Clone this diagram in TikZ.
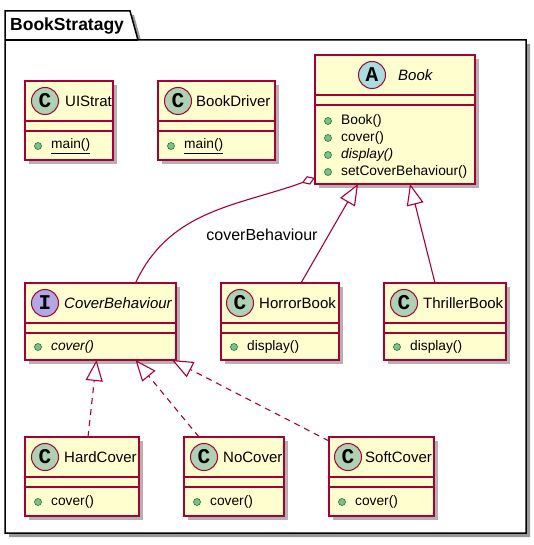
\documentclass[tikz,border=0pt]{standalone}
\usepackage{fontspec}
\setmainfont{Liberation Sans}
\setmonofont{Liberation Mono}
\usetikzlibrary{arrows.meta,shadows,positioning}

\definecolor{umlfill}{HTML}{FEFECE}
\definecolor{umlborder}{HTML}{A80036}
\definecolor{circC}{HTML}{ADD1B2}
\definecolor{circA}{HTML}{A9DCDF}
\definecolor{circI}{HTML}{B4A7E5}
\definecolor{dotfill}{HTML}{84BE84}
\definecolor{dotline}{HTML}{038048}

\tikzset{
  pkgline/.style={draw=black, line width=1.5bp},
  classbox/.style={draw=umlborder, fill=umlfill, line width=1.6bp, anchor=north west,
    inner sep=0pt, outer sep=0pt,
    drop shadow={shadow xshift=4bp, shadow yshift=-4bp, opacity=0.3, fill=black}},
  sepline/.style={draw=umlborder, line width=1.6bp},
  badge/.style={circle, draw=umlborder, line width=1bp, minimum size=27bp, inner sep=0pt,
    font=\fontsize{21bp}{21bp}\selectfont\ttfamily\bfseries},
  clsname/.style={anchor=west, inner sep=0pt, font=\fontsize{15bp}{18bp}\selectfont},
  meth/.style={anchor=west, inner sep=0pt, font=\fontsize{13.75bp}{16bp}\selectfont},
  mdot/.style={circle, draw=dotline, fill=dotfill, line width=0.6bp, minimum size=7bp, inner sep=0pt},
  rel/.style={draw=umlborder, line width=1.1bp},
  inherit/.style={rel, -{Triangle[fill=white, length=21bp, width=17bp]}},
  realize/.style={inherit, dash pattern=on 6bp off 5bp},
}

\begin{document}
\begin{tikzpicture}[x=1bp, y=-1bp]
    \useasboundingbox (0,0) rectangle (534,545);

    % 1. 包的外框 (带标签页)
    \path[pkgline, fill=white,
          drop shadow={shadow xshift=4bp, shadow yshift=-4bp, opacity=0.4, fill=black}]
          (5,40) -- (5,11) -- (130,11) -- (138,40) -- (526,40)
          -- (526,533) -- (5,533) -- cycle;
    \draw[pkgline] (5,40) -- (138,40);
    \node[anchor=west, inner sep=0pt, font=\fontsize{17.5bp}{20bp}\selectfont\bfseries]
          (pkgname) at (10,26) {BookStratagy};

    % 2. 各个类的方框: 名字/x/y/宽/高/圆心偏移/文字偏移/字母/颜色/类名
    \foreach \id/\x/\y/\w/\h/\bx/\tx/\ltr/\col/\nm in {
        uistrat/25/81/88/79/20/40/C/circC/UIStrat,
        bookdriver/158/81/117/79/20/38/C/circC/BookDriver,
        book/315/55/160/129/57/83/A/circA/\textit{Book},
        coverbeh/25/283/151/77/20/39/I/circI/\textit{CoverBehaviour},
        horror/221/283/118/77/19/38/C/circC/HorrorBook,
        thriller/384/283/122/77/20/39/C/circC/ThrillerBook,
        hardcover/25/437/114/79/20/39/C/circC/HardCover,
        nocover/184/437/100/79/20/39/C/circC/NoCover,
        softcover/329/437/105/79/19/36/C/circC/SoftCover}{
      \node[classbox, minimum width=\w bp, minimum height=\h bp] (\id) at (\x,\y) {};
      \draw[sepline] ({\x},{\y+40}) -- ++(\w,0);
      \draw[sepline] ({\x},{\y+50}) -- ++(\w,0);
      \node[badge, fill=\col] (\id-badge) at ({\x+\bx},{\y+20}) {\ltr};
      \node[clsname] (\id-name) at ({\x+\tx},{\y+20}) {\nm};
    }

    % 3. 方法列表 (绿色圆点 + 方法名)
    \foreach \id/\n/\x/\y/\txt in {
        uistrat/1/25/146/\underline{main()},
        bookdriver/1/158/146/\underline{main()},
        book/1/315/121/Book(),
        book/2/315/138/cover(),
        book/3/315/155/\textit{display()},
        book/4/315/172/setCoverBehaviour(),
        coverbeh/1/25/347/\textit{cover()},
        horror/1/221/347/display(),
        thriller/1/384/347/display(),
        hardcover/1/25/502/cover(),
        nocover/1/184/502/cover(),
        softcover/1/329/502/cover()}{
      \node[mdot] (\id-dot\n) at ({\x+13},\y) {};
      \node[meth] (\id-m\n) at ({\x+26},\y) {\txt};
    }

    % 4. 聚合关系 (空心菱形)
    \draw[rel, {Diamond[open, length=14bp, width=9bp]}-]
          ([yshift=6bp]book.south west)
          to[out=200, in=65] ([xshift=35bp]coverbeh.north);
    \node[font=\fontsize{16bp}{18bp}\selectfont] (aggname) at (262,235) {coverBehaviour};

    % 5. 继承关系 (实线 + 空心三角)
    \draw[inherit] ([xshift=21bp]horror.north) -- ([xshift=-37bp]book.south);
    \draw[inherit] ([xshift=-10bp]thriller.north) -- ([xshift=15bp]book.south);

    % 6. 实现关系 (虚线 + 空心三角)
    \draw[realize] ([xshift=6bp]hardcover.north) -- ([xshift=-4bp]coverbeh.south);
    \draw[realize] ([xshift=-35bp]nocover.north) -- ([xshift=35bp]coverbeh.south);
    \draw[realize] ([yshift=-4bp]softcover.north west) -- ([xshift=-4bp]coverbeh.south east);

\end{tikzpicture}
\end{document}
